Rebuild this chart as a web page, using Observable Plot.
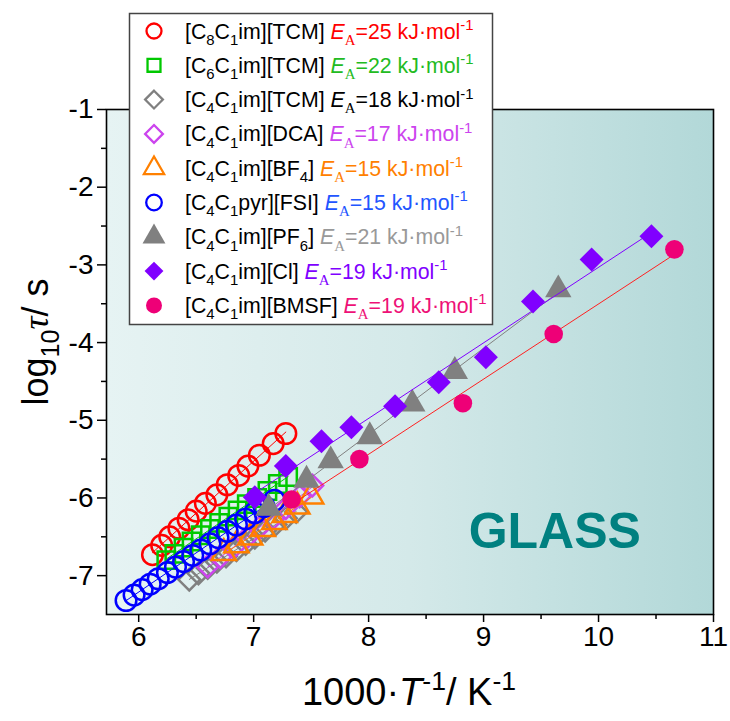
<!DOCTYPE html>
<html><head><meta charset="utf-8">
<script src="https://cdn.jsdelivr.net/npm/d3@7"></script>
<script src="https://cdn.jsdelivr.net/npm/@observablehq/plot@0.6"></script>
<style>
body{margin:0;background:#fff;}
#chart{width:730px;height:721px;}
</style>
</head><body><div id="chart"></div>
<script>
// ---------- data ----------
const c8tcmX = [6.12,6.20,6.27,6.35,6.43,6.50,6.58,6.68,6.77,6.87,6.95,7.05,7.17,7.28];
const c8tcmY = [-6.73,-6.61,-6.50,-6.39,-6.28,-6.17,-6.07,-5.96,-5.83,-5.71,-5.59,-5.45,-5.30,-5.17];
const c6tcmX = [6.24,6.31,6.39,6.46,6.54,6.62,6.70,6.78,6.86,6.94,7.03,7.12,7.21,7.30];
const c6tcmY = [-6.80,-6.72,-6.64,-6.56,-6.48,-6.40,-6.32,-6.24,-6.16,-6.08,-6.00,-5.91,-5.82,-5.73];
const c4tcmX = [6.44,6.52,6.60,6.68,6.76,6.85,6.93,7.01,7.10,7.19,7.28,7.37];
const c4tcmY = [-7.05,-6.97,-6.90,-6.82,-6.75,-6.67,-6.59,-6.51,-6.42,-6.34,-6.26,-6.18];
const dcaX = [6.60,6.71,6.83,6.94,7.05,7.17,7.28,7.40,7.51];
const dcaY = [-6.88,-6.76,-6.63,-6.51,-6.38,-6.26,-6.13,-5.98,-5.84];
const bf4X = [6.74,6.85,6.97,7.08,7.18,7.27,7.38,7.50];
const bf4Y = [-6.71,-6.61,-6.51,-6.40,-6.31,-6.22,-6.11,-5.98];
const fsiX = [5.89,5.96,6.03,6.10,6.17,6.25,6.32,6.39,6.47,6.54,6.62,6.69,6.77,6.85,6.93,7.01,7.09,7.18];
const fsiY = [-7.32,-7.25,-7.18,-7.11,-7.04,-6.96,-6.89,-6.82,-6.74,-6.67,-6.59,-6.51,-6.43,-6.35,-6.27,-6.19,-6.11,-6.03];
const pf6X = [7.13,7.46,7.67,8.01,8.38,8.75,9.65];
const pf6Y = [-6.13,-5.77,-5.52,-5.21,-4.79,-4.37,-3.32];
const clX = [7.01,7.28,7.59,7.85,8.23,8.61,9.02,9.43,9.94,10.46];
const clY = [-5.99,-5.59,-5.27,-5.09,-4.82,-4.51,-4.19,-3.47,-2.93,-2.63];
const bmsfX = [7.33,7.92,8.82,9.61,10.66];
const bmsfY = [-6.02,-5.50,-4.78,-3.89,-2.80];

const seriesX = [c8tcmX,c6tcmX,c4tcmX,dcaX,bf4X,fsiX,pf6X,clX,bmsfX];
const seriesY = [c8tcmY,c6tcmY,c4tcmY,dcaY,bf4Y,fsiY,pf6Y,clY,bmsfY];
const cations = [["[C",{sub:"8"},"C",{sub:"1"},"im][TCM]"],["[C",{sub:"6"},"C",{sub:"1"},"im][TCM]"],["[C",{sub:"4"},"C",{sub:"1"},"im][TCM]"],["[C",{sub:"4"},"C",{sub:"1"},"im][DCA]"],["[C",{sub:"4"},"C",{sub:"1"},"im][BF",{sub:"4"},"]"],["[C",{sub:"4"},"C",{sub:"1"},"pyr][FSI]"],["[C",{sub:"4"},"C",{sub:"1"},"im][PF",{sub:"6"},"]"],["[C",{sub:"4"},"C",{sub:"1"},"im][Cl]"],["[C",{sub:"4"},"C",{sub:"1"},"im][BMSF]"]];
const eaValues = [25,22,18,17,15,15,21,19,19];
const markerColors = ["#ff0000","#00c800","#808080","#cc44ee","#ff8000","#0000ff","#808080","#8000ff","#ee0077"];
const lineColors   = ["#ff0000","#00c800","#808080","#cc44ee","#ff8000","#0000ff","#808080","#8000ff","#ff2020"];
const textColors   = ["#ff0000","#22bb22","#000000","#cc44ee","#ff8000","#2255ff","#999999","#8000ff","#ee1177"];
const symbolNames  = ["circle","square","diamond","diamond","triangle","circle","triangle","diamond","circle"];
const filledFlags  = [false,false,false,false,false,false,true,true,true];
const radii        = [10.3,9.8,9.8,9.8,9,10.3,9.8,10.8,9.3];
const xMajor = [6,7,8,9,10,11];
const xMinor = [6.5,7.5,8.5,9.5,10.5];
const yMajor = [-1,-2,-3,-4,-5,-6,-7];
const yMinor = [-1.5,-2.5,-3.5,-4.5,-5.5,-6.5];
const annotation = [{x:8.87, y:-6.44, label:"GLASS"}];

const symbolMap = {circle: d3.symbolCircle, square: d3.symbolSquare, diamond: d3.symbolDiamond2, triangle: d3.symbolTriangle};

// ---------- build chart ----------
const marks = [Plot.frame({fill:"url(#bgGrad)"})];
seriesX.forEach((xs,i)=>{
  const rows = xs.map((x,j)=>({x, y: seriesY[i][j]}));
  marks.push(Plot.linearRegressionY(rows,{x:"x",y:"y",stroke:lineColors[i],strokeWidth:1,ci:0}));
  marks.push(Plot.dot(rows,{x:"x",y:"y",r:radii[i],symbol:symbolMap[symbolNames[i]],
    fill: filledFlags[i]? markerColors[i] : "none",
    stroke: filledFlags[i]? "none" : markerColors[i],
    strokeWidth: 2.5}));
});
marks.push(Plot.text(annotation,{x:"x",y:"y",text:"label",textAnchor:"start",fontSize:50,fontWeight:"bold",fill:"#008080"}));
marks.push(Plot.frame({stroke:"#000",strokeWidth:1.6}));
marks.push(Plot.axisX({ticks:xMajor,tickSize:8,tickPadding:4,fontSize:28,tickFormat:d=>String(d),strokeWidth:1.5,label:null}));
marks.push(Plot.axisX({ticks:xMinor,tickSize:5,tickFormat:()=>"",strokeWidth:1.5,label:null}));
marks.push(Plot.axisY({ticks:yMajor,tickSize:9,tickPadding:4,fontSize:28,tickFormat:d=>String(d),strokeWidth:1.5,label:null}));
marks.push(Plot.axisY({ticks:yMinor,tickSize:5,tickFormat:()=>"",strokeWidth:1.5,label:null}));

const plot = Plot.plot({
  width:730, height:721,
  marginLeft:106, marginRight:17, marginTop:109, marginBottom:107,
  x:{domain:[5.72,11]},
  y:{domain:[-7.5,-1]},
  style:{fontFamily:"'Liberation Sans', Arial, sans-serif", background:"transparent", color:"#000"},
  marks
});
document.getElementById("chart").appendChild(plot);

const svg = d3.select(plot);
const defs = svg.insert("defs",":first-child");
const grad = defs.append("linearGradient").attr("id","bgGrad").attr("x1","0").attr("x2","1").attr("y1","0").attr("y2","0");
grad.append("stop").attr("offset","0%").attr("stop-color","#e6f3f3");
grad.append("stop").attr("offset","50%").attr("stop-color","#d4e9e9");
grad.append("stop").attr("offset","100%").attr("stop-color","#b2d8d8");

// rich text helper
function rich(sel, tokens, size){
  let off = 0;
  tokens.forEach(tk=>{
    if (typeof tk === "string") tk = {t:tk};
    let target = 0, fs = size;
    if (tk.sub!==undefined){ target = size*0.3; fs = size*0.7; tk.t = tk.sub; }
    if (tk.sup!==undefined){ target = -size*0.4; fs = size*0.7; tk.t = tk.sup; }
    const ts = sel.append("tspan").attr("dy", (target-off)+"px").attr("font-size", fs+"px").text(tk.t);
    if (tk.italic) ts.attr("font-style","italic");
    if (tk.serif) ts.attr("font-family","'Liberation Serif','Times New Roman',serif");
    if (tk.fill) ts.attr("fill", tk.fill);
    off = target;
  });
}

// axis titles
const xt = svg.append("text").attr("x",409).attr("y",705).attr("text-anchor","middle").attr("fill","#000")
  .attr("font-family","'Liberation Sans', Arial, sans-serif");
rich(xt, ["1000·",{t:"T",italic:true},{sup:"-1"},"/ K",{sup:"-1"}], 38);
const yt = svg.append("text").attr("transform","translate(48,342) rotate(-90)").attr("text-anchor","middle").attr("fill","#000")
  .attr("font-family","'Liberation Sans', Arial, sans-serif");
rich(yt, ["log",{sub:"10"},{t:"τ",italic:true,serif:true},"/ s"], 36);

// legend
const lg = svg.append("g").attr("text-anchor","start");
lg.append("rect").attr("x",129.5).attr("y",13.5).attr("width",363).attr("height",311)
  .attr("fill","#fff").attr("stroke","#444").attr("stroke-width",1.5);
const legendR = [7.5,7.3,8,8,7.5,7.8,8.5,8.5,8];
cations.forEach((parts,i)=>{
  const cy = 31 + i*34.3;
  const sym = d3.symbol(symbolMap[symbolNames[i]], Math.PI*legendR[i]*legendR[i]);
  lg.append("path").attr("d",sym()).attr("transform",`translate(154,${cy})`)
    .attr("fill", filledFlags[i]? markerColors[i] : "none")
    .attr("stroke", filledFlags[i]? "none" : markerColors[i]).attr("stroke-width",2.3);
  const t = lg.append("text").attr("x",185).attr("y",cy+7.5).attr("fill","#000").attr("text-anchor","start")
    .attr("font-family","'Liberation Sans', Arial, sans-serif");
  const c = textColors[i];
  const toks = parts.map(p=> typeof p==="string"? {t:p} : Object.assign({},p));
  toks.push({t:" "});
  toks.push({t:"E",italic:true,fill:c});
  toks.push({sub:"A",serif:true,fill:c});
  toks.push({t:"="+eaValues[i]+" kJ·mol",fill:c});
  toks.push({sup:"-1",fill:c});
  rich(t, toks, 21.3);
});
</script>
</body></html>
